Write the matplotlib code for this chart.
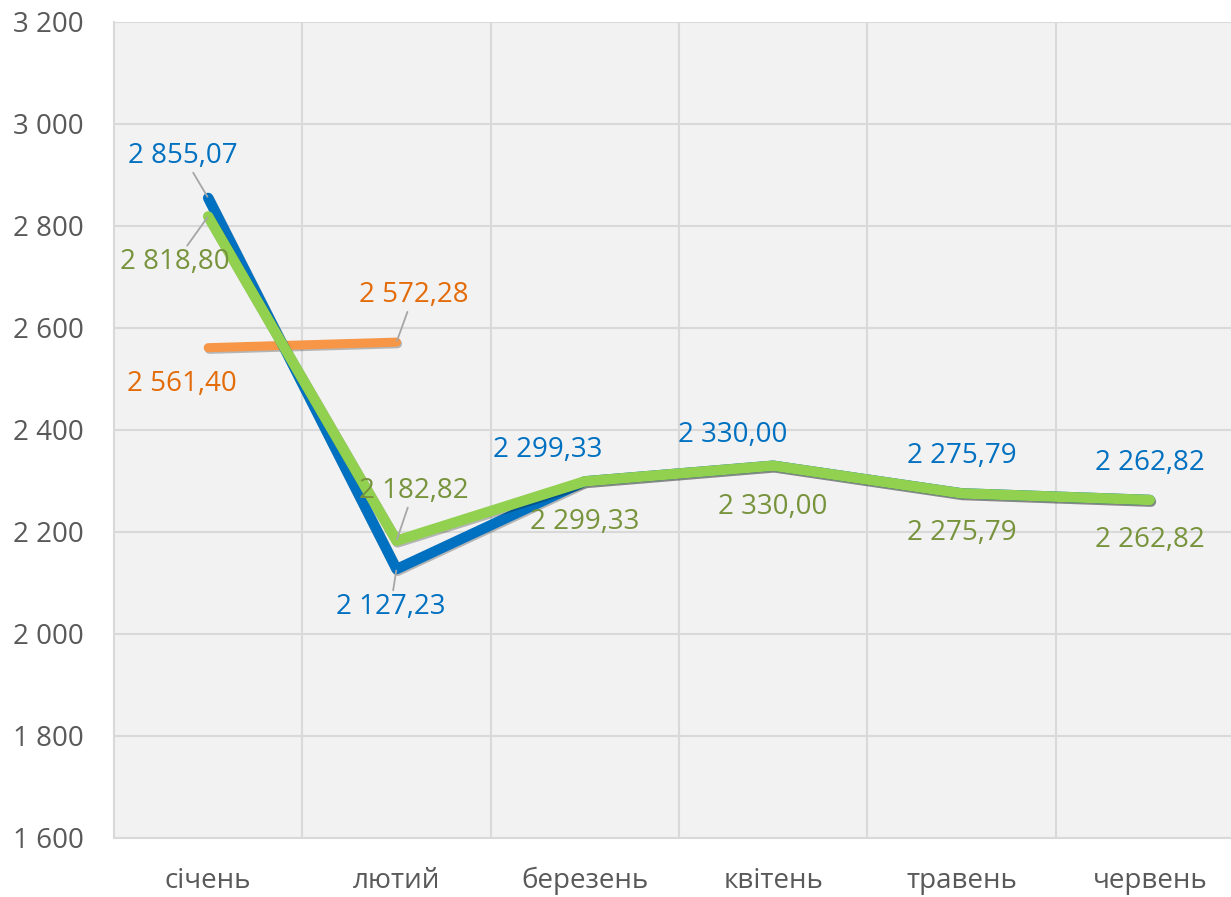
import matplotlib
matplotlib.use("Agg")
import matplotlib.pyplot as plt
import matplotlib.patheffects as pe

# --- data ---
months = ['січень', 'лютий', 'березень', 'квітень', 'травень', 'червень']
blue_vals = [2855.07, 2127.23, 2299.33, 2330.00, 2275.79, 2262.82]
green_vals = [2818.80, 2182.82, 2299.33, 2330.00, 2275.79, 2262.82]
orange_vals = [2561.40, 2572.28]
y_ticks = [1600, 1800, 2000, 2200, 2400, 2600, 2800, 3000, 3200]

# --- label offsets (pixels) and whether a leader line is drawn ---
blue_off = [(-25, 42, True), (-6, -38, True), (-37, 31, False), (-40, 31, False), (0, 37, False), (0, 37, False)]
green_off = [(-33, -46, True), (17, 50, True), (0, -41, False), (0, -41, False), (0, -40, False), (0, -40, False)]
orange_off = [(-26, -36, False), (17, 47, True)]

BLUE, BLUE_T = '#0070c0', '#0070c0'
GREEN, GREEN_T = '#92d050', '#77933c'
ORANGE, ORANGE_T = '#f79646', '#e36c09'

plt.rcParams['font.family'] = ['Open Sans', 'DejaVu Sans']


def fmt(v, dec=2):
    s = f"{v:,.{dec}f}".replace(',', ' ').replace('.', ',')
    return s


fig = plt.figure(figsize=(12.31, 8.97), dpi=100)
ax = fig.add_axes([114 / 1231, 59 / 897, 1130 / 1231, 816 / 897])
ax.set_facecolor('#f2f2f2')
ax.set_xlim(-0.5, 5.5)
ax.set_ylim(1600, 3200)

# grid
for y in y_ticks:
    ax.axhline(y, color='#d9d9d9', lw=1.5, zorder=1)
for i in range(len(months)):
    ax.axvline(i + 0.5, color='#d9d9d9', lw=1.5, zorder=1)

shadow = [pe.SimpleLineShadow(offset=(0.8, -1.2), alpha=0.25, shadow_color='black'), pe.Normal()]
x = list(range(len(months)))
ax.plot(x[:len(orange_vals)], orange_vals, color=ORANGE, lw=6.5, solid_capstyle='round',
        solid_joinstyle='round', zorder=3, path_effects=shadow)
ax.plot(x, blue_vals, color=BLUE, lw=7.5, solid_capstyle='round',
        solid_joinstyle='round', zorder=4, path_effects=shadow)
ax.plot(x, green_vals, color=GREEN, lw=7.5, solid_capstyle='round',
        solid_joinstyle='round', zorder=5, path_effects=shadow)


def labels(vals, offs, col):
    for i, v in enumerate(vals):
        dx, dy, lead = offs[i]
        kw = {}
        if lead:
            kw['arrowprops'] = dict(arrowstyle='-', color='#a6a6a6', lw=1.3,
                                    shrinkA=0, shrinkB=1)
        ax.annotate(fmt(v), (i, v), xytext=(dx, dy), textcoords='offset pixels',
                    ha='center', va='center', color=col, fontsize=20, zorder=6, **kw)


labels(blue_vals, blue_off, BLUE_T)
labels(green_vals, green_off, GREEN_T)
labels(orange_vals, orange_off, ORANGE_T)

ax.set_xticks(x)
ax.set_xticklabels(months)
ax.set_yticks(y_ticks)
ax.set_yticklabels([fmt(t, 0) for t in y_ticks])
ax.tick_params(length=0, labelsize=20, colors='#595959')
ax.tick_params(axis='x', pad=21)
ax.tick_params(axis='y', pad=22)
for s in ['top', 'right']:
    ax.spines[s].set_visible(False)
for s in ['left', 'bottom']:
    ax.spines[s].set_color('#d9d9d9')
    ax.spines[s].set_linewidth(1.5)

fig.savefig('out.png', dpi=100)
